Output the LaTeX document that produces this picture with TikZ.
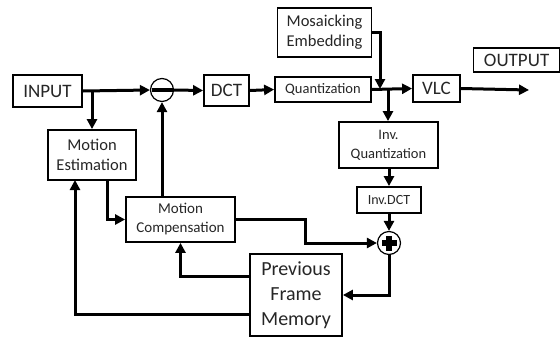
\documentclass[tikz,border=0pt]{standalone}
\usepackage{fontspec}
\setmainfont{Carlito}
\usetikzlibrary{arrows.meta,calc}
\begin{document}
\begin{tikzpicture}[x=1pt,y=-1pt,
  blk/.style={draw,line width=1.8pt,rectangle,inner sep=0pt,align=center,text=black!85},
  sum/.style={draw,line width=1.2pt,circle,minimum size=23pt,inner sep=0pt},
  arr/.style={line width=3pt,-{Triangle[length=10pt,width=10pt]}},
  ln/.style={line width=3pt}]
\useasboundingbox (0,0) rectangle (560,338);
\node[blk,minimum width=69pt,minimum height=32pt,font=\fontsize{19}{20}\selectfont] (in) at (47.5,91) {INPUT};
\node[sum] (minus) at (162,90) {};
\fill ($(minus.center)+(-10.5,-1.6)$) rectangle ($(minus.center)+(10.5,1.6)$);
\node[blk,minimum width=45pt,minimum height=31pt,font=\fontsize{19}{20}\selectfont] (dct) at (226.5,90.5) {DCT};
\node[blk,minimum width=96pt,minimum height=25pt,font=\fontsize{14.5}{16}\selectfont] (q) at (323,89.5) {Quantization};
\node[blk,minimum width=94pt,minimum height=49pt,font=\fontsize{16.5}{20}\selectfont] (mos) at (324.5,32.5) {Mosaicking\\Embedding};
\node[blk,minimum width=47pt,minimum height=27pt,font=\fontsize{19}{20}\selectfont] (vlc) at (436.5,88.5) {VLC};
\node[blk,line width=1.2pt,minimum width=86pt,minimum height=24pt,font=\fontsize{19}{20}\selectfont,anchor=west] (out) at (473,60) {OUTPUT};
\node[blk,minimum width=99pt,minimum height=46pt,font=\fontsize{14.5}{19}\selectfont] (iq) at (388.5,145) {Inv.\\Quantization};
\node[blk,minimum width=64pt,minimum height=26pt,font=\fontsize{14}{16}\selectfont] (idct) at (389,200) {Inv.DCT};
\node[sum] (plus) at (389,243) {};
\fill ($(plus.center)+(-7.5,-2.6)$) rectangle ($(plus.center)+(7.5,2.6)$);
\fill ($(plus.center)+(-2.6,-7.5)$) rectangle ($(plus.center)+(2.6,7.5)$);
\node[blk,minimum width=92pt,minimum height=82pt,font=\fontsize{20}{25}\selectfont] (pfm) at (296,295) {Previous\\Frame\\Memory};
\node[blk,minimum width=109pt,minimum height=45pt,font=\fontsize{15}{19}\selectfont] (mc) at (180.5,219.5) {Motion\\Compensation};
\node[blk,minimum width=88pt,minimum height=50pt,font=\fontsize{16.5}{20}\selectfont] (me) at (92,155) {Motion\\Estimation};
\coordinate (b1) at (92,90);
\coordinate (b2) at (388,90);
\coordinate (oend) at (529,90);
% connectors
\draw[arr] (in.east) -- (minus.west);
\draw[arr] (b1) -- (me.north);
\draw[arr] (minus.east) -- (dct.west);
\draw[arr] (dct.east) -- (q.west);
\draw[arr] (q.east) -- (vlc.west);
\draw[arr] (mos.east |- 0,32) -| (380,89);
\draw[arr] (b2) -- (b2 |- iq.north);
\draw[arr] (iq.south -| idct.north) -- (idct.north);
\draw[arr] (idct.south) -- (plus.north);
\draw[arr] (vlc.east) -- (oend);
\draw[arr] (mc.north -| minus.south) -- (minus.south);
\draw[arr] (107,180) |- (mc.west);
\draw[arr] (mc.east) -- (305,219.5) |- (plus.west);
\draw[arr] (plus.south) |- (pfm.east);
\draw[arr] (pfm.west |- 0,276) -| (mc.south);
\draw[arr] (pfm.west |- 0,314) -| (75,180);
\end{tikzpicture}
\end{document}
